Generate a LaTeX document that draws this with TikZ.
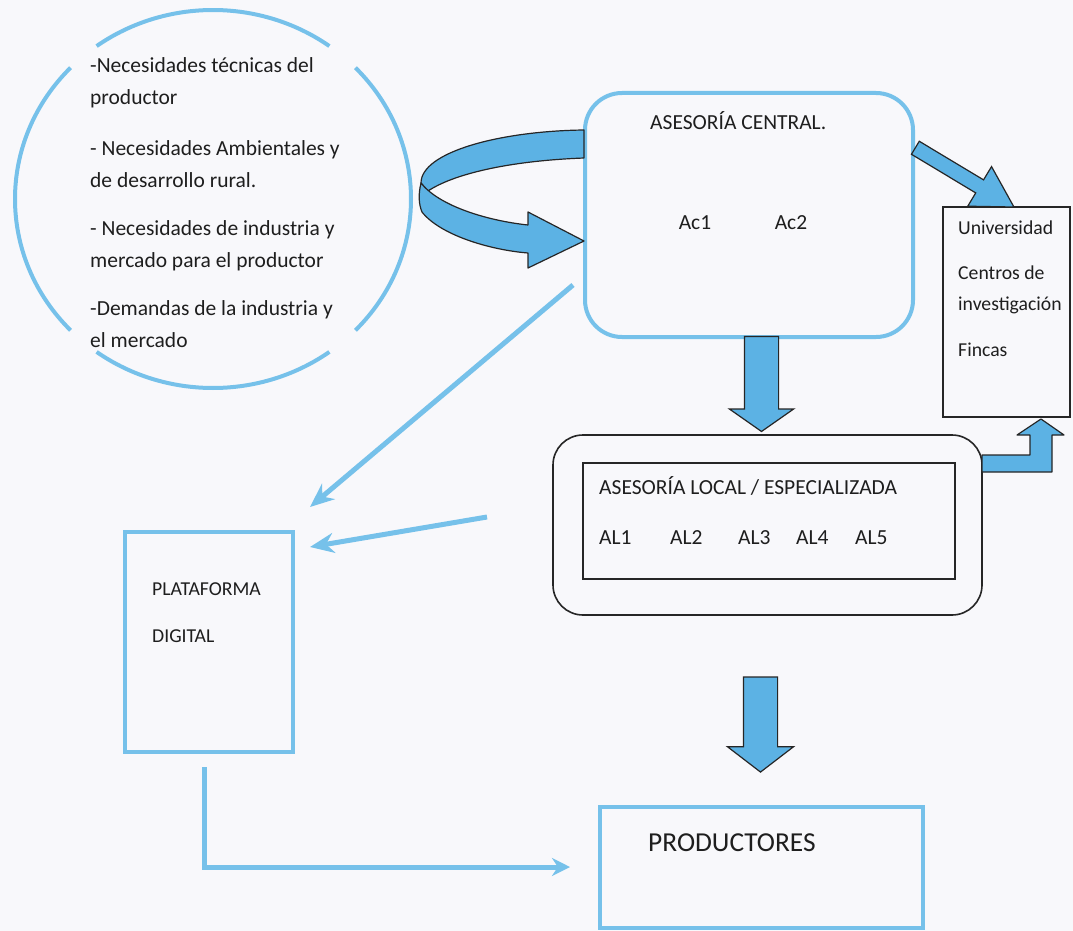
\documentclass[tikz,border=0pt]{standalone}
\usepackage{fontspec}
\setmainfont{Carlito}
\usetikzlibrary{arrows.meta,shapes.arrows,calc}

\definecolor{lineblue}{RGB}{118,193,234}
\definecolor{fillblue}{RGB}{92,178,228}
\definecolor{paper}{RGB}{248,248,251}
\definecolor{ink}{RGB}{30,30,30}

\tikzset{
  txt/.style={font=\fontsize{21.5}{26}\selectfont, text=ink, inner sep=0pt, anchor=base west},
  smalltxt/.style={txt, font=\fontsize{19.7}{24}\selectfont},
  bluering/.style={draw=lineblue, line width=4pt},
  bluebox/.style={draw=lineblue, line width=4pt, inner sep=0pt},
  blackbox/.style={draw=black!85, line width=1.6pt, inner sep=0pt},
  thinarrow/.style={draw=lineblue, line width=5pt, -{Stealth[length=24pt,width=20pt]}},
  blockarrow/.style={single arrow, draw=black!85, fill=fillblue, line width=1.2pt, inner xsep=0pt},
  ribbon/.style={draw=black!85, fill=fillblue, line width=1.2pt, line join=round}
}

\begin{document}
\begin{tikzpicture}[x=1pt,y=-1pt]
\useasboundingbox[fill=paper] (0,0) rectangle (1073,931);

% circle of needs, broken at the corners
\coordinate (nec) at (213,199);
\foreach \a/\b in {-54/-126, -136/-224, -234/-306, 44/-44}
  \draw[bluering] ($(nec)+(\a:198 and 189)$) arc[start angle=\a, end angle=\b, x radius=198, y radius=189];
\foreach \y/\t in {73/{-Necesidades técnicas del}, 105/{productor},
                   155/{- Necesidades Ambientales y}, 187/{de desarrollo rural.},
                   235/{- Necesidades de industria y}, 267/{mercado para el productor},
                   315/{-Demandas de la industria y}, 347/{el mercado}}
  \node[txt] at (90,\y) {\t};

% central advice
\node[bluebox, rounded corners=37pt, minimum width=328, minimum height=244] (central) at (749,215) {};
\node[txt] (centraltitle) at (650,129) {ASESORÍA CENTRAL.};
\node[txt, anchor=base] (ac1) at (695,229) {Ac1};
\node[txt, anchor=base] (ac2) at (791,229) {Ac2};

% U-turn arrow into the central box
\path[ribbon] (584,130) .. controls (500,131) and (421,152) .. (421,183)
  -- (428,191) .. controls (452,175) and (505,161) .. (584,158) -- cycle;
\path[ribbon] (421,183) .. controls (418,195) and (419,205) .. (422,212)
  .. controls (440,235) and (490,250) .. (528,253) -- (528,268) -- (584,241)
  -- (528,212) -- (528,225) .. controls (490,221) and (440,207) .. (421,183) -- cycle;

% universities box
\node[blackbox, minimum width=127, minimum height=210] (uni) at (1006.5,312) {};
\node[smalltxt] (u1) at (958,234) {Universidad};
\node[smalltxt] (u2) at (958,279) {Centros de};
\node[smalltxt] (u3) at (958,310) {investigación};
\node[smalltxt] (u4) at (958,356) {Fincas};
\node[blockarrow, minimum height=115, inner ysep=7pt, single arrow head extend=15.5,
      single arrow tip angle=60, rotate=-31] (toUni) at (959,174) {};

% local advice
\node[blackbox, rounded corners=30pt, minimum width=429, minimum height=180] (localout) at (767.5,525) {};
\node[blackbox, minimum width=372, minimum height=116] (localin) at (769,521) {};
\node[txt] (localtitle) at (599,494) {ASESORÍA LOCAL / ESPECIALIZADA};
\foreach \x/\n in {599/1, 670/2, 738/3, 796/4, 855/5}
  \node[txt] (al\n) at (\x,544) {AL\n};
\node[blockarrow, minimum height=95, inner ysep=16.5pt, single arrow head extend=15,
      single arrow tip angle=110, rotate=-90] (down1) at (761.5,378) {};
\path[ribbon] (982,455) -- (1030,455) -- (1030,435) -- (1017,435) -- (1041,419)
  -- (1064,435) -- (1052,435) -- (1052,472) -- (982,472) -- cycle;

% digital platform
\node[bluebox, minimum width=168, minimum height=220] (plat) at (209,642) {};
\node[smalltxt] (plat1) at (152,595) {PLATAFORMA};
\node[smalltxt] (plat2) at (152,642) {DIGITAL};
\coordinate (c1) at (573,285);
\coordinate (p1) at (310,507);
\coordinate (l1) at (487,517);
\coordinate (p2) at (310,547);
\draw[thinarrow] (c1) -- (p1);
\draw[thinarrow] (l1) -- (p2);

% producers
\node[bluebox, minimum width=323, minimum height=121] (prod) at (761.5,867.5) {};
\node[txt, font=\fontsize{27.4}{32}\selectfont] (prodtxt) at (648,851) {PRODUCTORES};
\node[blockarrow, minimum height=95, inner ysep=16.5pt, single arrow head extend=16,
      single arrow tip angle=105, rotate=-90] (down2) at (760.5,718) {};
\coordinate (pl1) at (204,767);
\coordinate (pr1) at (570,867);
\draw[thinarrow, -{Stealth[length=18pt,width=18pt]}] (pl1) |- (pr1);
\end{tikzpicture}
\end{document}
